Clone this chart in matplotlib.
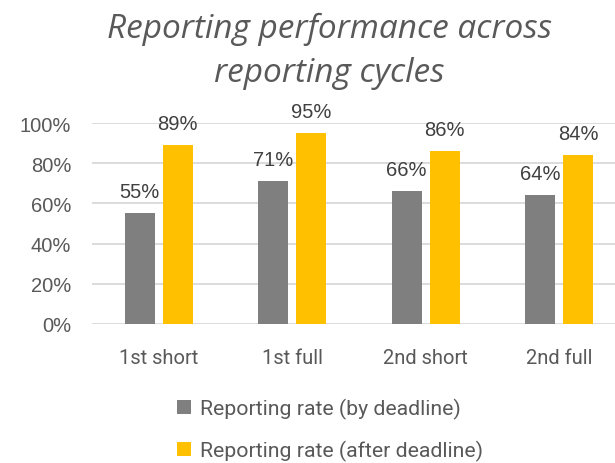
import matplotlib.pyplot as plt
import numpy as np
from matplotlib.ticker import PercentFormatter

cycles = ['1st short', '1st full', '2nd short', '2nd full']
by_deadline = [0.55, 0.71, 0.66, 0.64]
after_deadline = [0.89, 0.95, 0.86, 0.84]
series_names = ['Reporting rate (by deadline)', 'Reporting rate (after deadline)']

txt = '#595959'
fig = plt.figure(figsize=(6.15, 4.64), dpi=100)
ax = fig.add_axes([0.1496, 0.2996, 0.868, 0.433])

x = np.arange(len(cycles))
w = 0.224
off = 0.142
b1 = ax.bar(x - off, by_deadline, w, color='#7f7f7f', label=series_names[0], zorder=2)
b2 = ax.bar(x + off, after_deadline, w, color='#ffc000', label=series_names[1], zorder=2)

for bars, vals in [(b1, by_deadline), (b2, after_deadline)]:
    for r, v in zip(bars, vals):
        ax.annotate(f'{v:.0%}', (r.get_x() + r.get_width() / 2, v),
                    xytext=(0, 9), textcoords='offset points',
                    ha='center', va='bottom', fontsize=14.5, color='#404040',
                    family='Liberation Sans', annotation_clip=False)

ax.set_xlim(-0.5, 3.5)
ax.set_ylim(0, 1.0)
ax.set_yticks(np.arange(0, 1.01, 0.2))
ax.yaxis.set_major_formatter(PercentFormatter(1.0, decimals=0))
ax.grid(axis='y', color='#d9d9d9', lw=1.3, zorder=0)
for s in ax.spines.values():
    s.set_visible(False)
ax.tick_params(axis='both', length=0, colors=txt)
ax.tick_params(axis='y', pad=15, labelsize=14.5)
ax.tick_params(axis='x', pad=17, labelsize=14.5)
ax.set_xticks(x, cycles)
for lab in ax.get_yticklabels():
    lab.set_family('Liberation Sans')
for lab in ax.get_xticklabels():
    lab.set_family('Roboto')

fig.text(0.535, 0.972, 'Reporting performance across\nreporting cycles', ha='center', va='top',
         fontsize=24, style='italic', color=txt, family='Open Sans', linespacing=1.42)

fig.legend(handles=[b1, b2], labels=series_names, loc='upper left',
           bbox_to_anchor=(0.285, 0.145), frameon=False, ncol=1,
           prop={'family': 'Roboto', 'size': 15.3}, labelcolor=txt,
           handlelength=0.65, handleheight=0.65, handletextpad=0.4, labelspacing=1.0,
           borderaxespad=0, borderpad=0.1)

fig.savefig('out.png', dpi=100)
